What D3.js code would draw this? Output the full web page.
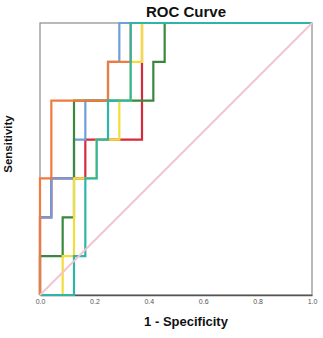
<!DOCTYPE html>
<html><head><meta charset="utf-8">
<script src="https://cdn.jsdelivr.net/npm/d3@7"></script>
<style>body{margin:0;background:#fff}svg{display:block}</style>
</head><body>
<script>
// Data: ROC step curves (FPR in 24ths, TPR in 7ths)
const seriesNames = ["red", "blue", "green", "yellow", "orange", "teal"];
const colors = ["#d42a3c", "#6f9fd8", "#3a873e", "#f2de3a", "#f07b3f", "#2fb5a8"];
const fprSteps = [
  [0,0,1,1,4,4,9,9,24],
  [0,0,1,1,3,3,4,4,6,6,7,7,24],
  [0,0,2,2,3,3,10,10,11,11,24],
  [0,2,2,3,3,5,5,7,7,8,8,9,9,24],
  [0,0,1,1,6,6,8,8,24],
  [0,3,3,4,4,5,5,6,6,8,8,24]
];
const tprSteps = [
  [0,2,2,3,3,4,4,7,7],
  [0,2,2,3,3,4,4,5,5,6,6,7,7],
  [0,1,1,2,2,5,5,6,6,7,7],
  [0,0,1,1,3,3,4,4,5,5,6,6,7,7],
  [0,3,3,5,5,6,6,7,7],
  [0,0,1,1,3,3,4,4,5,5,7,7]
];
const nNeg = 24, nPos = 7;
const xTicks = [0, 0.2, 0.4, 0.6, 0.8, 1.0];

const W = 323, H = 338;
const svg = d3.select("body").append("svg").attr("width", W).attr("height", H);
const x = d3.scaleLinear().domain([0, 1]).range([40, 312]);
const y = d3.scaleLinear().domain([0, 1]).range([295, 23]);

// frame
svg.append("rect").attr("x", x(0)).attr("y", y(1)).attr("width", x(1) - x(0)).attr("height", y(0) - y(1))
  .attr("fill", "none").attr("stroke", "#8c8c8c").attr("stroke-width", 1.2);

// x axis
const xAxis = d3.axisBottom(x).tickValues(xTicks).tickFormat(d3.format(".1f")).tickSize(0).tickPadding(4);
const gx = svg.append("g").attr("transform", `translate(0,${y(0)})`).call(xAxis);
gx.select(".domain").attr("stroke", "#555").attr("stroke-width", 1.5);
gx.selectAll("text").attr("font-family", "Liberation Sans, Arial, sans-serif").attr("font-size", 7).attr("fill", "#555");

const line = d3.line().x(d => x(d[0])).y(d => y(d[1]));
seriesNames.forEach((name, i) => {
  const pts = fprSteps[i].map((f, j) => [f / nNeg, tprSteps[i][j] / nPos]);
  svg.append("path").attr("d", line(pts)).attr("fill", "none")
    .attr("stroke", colors[i]).attr("stroke-width", 2.2).attr("stroke-linejoin", "miter");
});

// reference diagonal
svg.append("path").attr("d", line([[0, 0], [1, 1]])).attr("fill", "none")
  .attr("stroke", "#f2c4cf").attr("stroke-width", 1.8);

// titles
svg.append("text").attr("x", 186).attr("y", 17).attr("text-anchor", "middle")
  .attr("font-family", "Liberation Sans, Arial, sans-serif").attr("font-weight", "bold").attr("font-size", 15)
  .attr("fill", "#111").text("ROC Curve");
svg.append("text").attr("x", 186).attr("y", 326).attr("text-anchor", "middle")
  .attr("font-family", "Liberation Sans, Arial, sans-serif").attr("font-weight", "bold").attr("font-size", 13)
  .attr("fill", "#111").text("1 - Specificity");
svg.append("text").attr("transform", "translate(12,144) rotate(-90)").attr("text-anchor", "middle")
  .attr("font-family", "Liberation Sans, Arial, sans-serif").attr("font-weight", "bold").attr("font-size", 11.5)
  .attr("fill", "#111").text("Sensitivity");
</script>
</body></html>
